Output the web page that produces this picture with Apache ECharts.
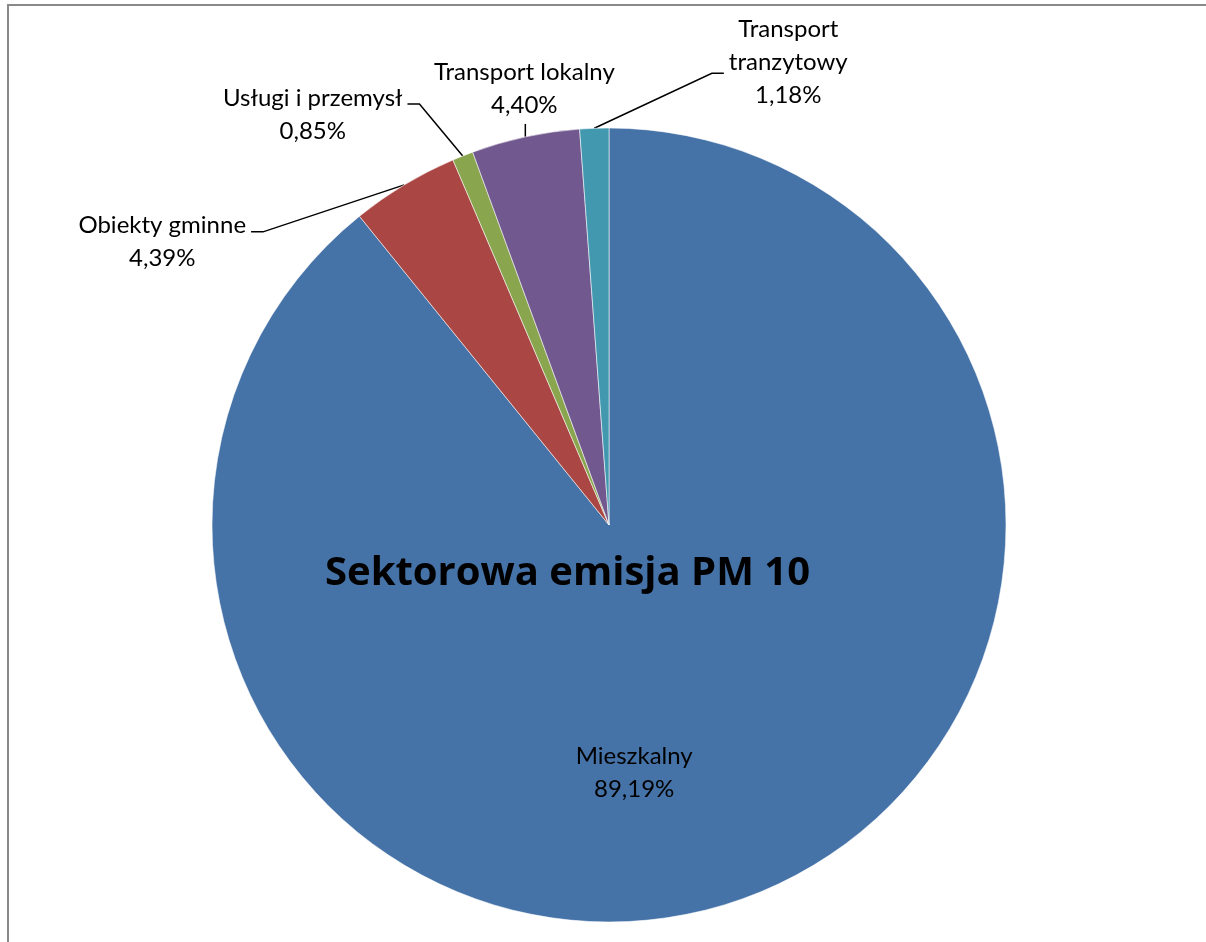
<!DOCTYPE html>
<html>
<head>
<meta charset="utf-8">
<script src="https://cdn.jsdelivr.net/npm/echarts@6/dist/echarts.min.js"></script>
<style>
  html, body { margin: 0; padding: 0; background: #fff; }
  #chart { width: 1206px; height: 942px; }
</style>
</head>
<body>
<div id="chart"></div>
<script>
// ---- data ----
const categories = ['Mieszkalny', 'Obiekty gminne', 'Usługi i przemysł', 'Transport lokalny', 'Transport tranzytowy'];
const labelNames = ['Mieszkalny', 'Obiekty gminne', 'Usługi i przemysł', 'Transport lokalny', 'Transport\ntranzytowy'];
const shares = [89.19, 4.39, 0.85, 4.40, 1.18];
const titleText = 'Sektorowa emisja PM 10';

// ---- style ----
const colors = ['#4572A7', '#AA4643', '#89A54E', '#71588F', '#4198AF'];
const FONT = 'Lato';
// label centre offset from the slice's outer mid-point, and where the leader line attaches
const placements = [
  null,
  { dx: -242, dy: 57, side: 'left', attachDy: -10 },
  { dx: -150, dy: -41, side: 'left', attachDy: -11 },
  { dx: -1, dy: -48, side: 'top' },
  { dx: 194, dy: -66, side: 'right', attachDy: 11 }
];
const GAP = 5, STUB = 12;

function fmt(v) { return v.toFixed(2).replace('.', ',') + '%'; }

const data = categories.map((c, i) => {
  const item = {
    name: c,
    value: shares[i],
    itemStyle: { color: colors[i] },
    label: {}
  };
  if (i === 0) {
    item.label = { position: 'inside', offset: [-42, 58] };
    item.labelLine = { show: false };
  }
  return item;
});

const chart = echarts.init(document.getElementById('chart'), null, { renderer: 'canvas' });
chart.setOption({
  animation: false,
  backgroundColor: '#ffffff',
  graphic: [{
    type: 'rect',
    shape: { x: 8, y: 5, width: 1400, height: 1200 },
    style: { fill: 'none', stroke: '#898989', lineWidth: 2 },
    silent: true,
    z: 100
  }],
  title: {
    text: titleText,
    left: 320,
    top: 549,
    textStyle: { fontFamily: 'Open Sans', fontWeight: 'bold', fontSize: 40, color: '#000' }
  },
  series: [{
    type: 'pie',
    center: [609, 525],
    radius: [0, 397],
    startAngle: 90,
    clockwise: true,
    avoidLabelOverlap: false,
    emphasis: { disabled: true },
    itemStyle: { borderColor: 'rgba(255,255,255,0.55)', borderWidth: 1 },
    label: {
      show: true,
      position: 'outside',
      color: '#000',
      fontFamily: FONT,
      fontSize: 24,
      lineHeight: 33,
      align: 'center',
      formatter: p => labelNames[p.dataIndex] + '\n' + fmt(p.value)
    },
    labelLine: {
      show: true,
      length: 20,
      length2: 10,
      lineStyle: { color: '#000', width: 1.5 }
    },
    labelLayout: function (p) {
      const pl = placements[p.dataIndex];
      if (!pl || !p.labelLinePoints) return {};
      const edge = p.labelLinePoints[0];
      const cx = edge[0] + pl.dx, cy = edge[1] + pl.dy;
      const w = p.labelRect.width, h = p.labelRect.height;
      let pts;
      if (pl.side === 'top') {
        pts = [edge, [edge[0], cy + h / 2 + 2]];
      } else if (pl.side === 'left') {
        const sx = cx + w / 2, ay = cy + pl.attachDy;
        pts = [edge, [sx + GAP + STUB, ay], [sx + GAP, ay]];
      } else {
        const sx = cx - w / 2, ay = cy + pl.attachDy;
        pts = [edge, [sx - GAP - STUB, ay], [sx - GAP, ay]];
      }
      return { x: cx, y: cy, align: 'center', verticalAlign: 'middle', labelLinePoints: pts };
    },
    data: data
  }]
});
</script>
</body>
</html>
